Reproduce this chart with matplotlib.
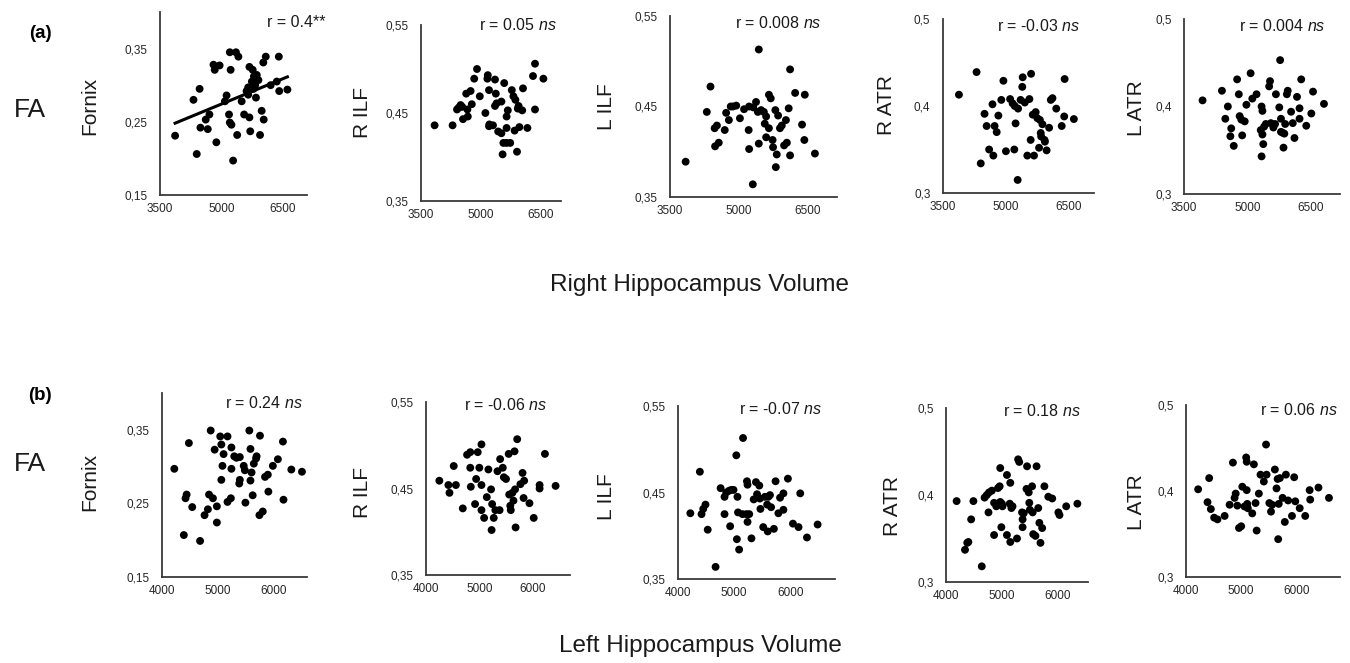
import numpy as np
import matplotlib
matplotlib.use("Agg")
import matplotlib.pyplot as plt
from matplotlib.ticker import FuncFormatter

plt.rcParams['font.family'] = ['Liberation Sans', 'DejaVu Sans']
plt.rcParams['mathtext.fontset'] = 'custom'
plt.rcParams['mathtext.rm'] = 'Liberation Sans'
plt.rcParams['mathtext.it'] = 'Liberation Sans:italic'

# ---- data: (a) right hippocampus volume vs FA ----
rh_fornix_x = [3870, 4400, 4320, 4470, 4490, 4620, 4710, 4670, 4880, 4810, 4840, 4960, 5130, 5090,
               5210, 5360, 5420, 5230, 5190, 5210, 5250, 5290, 5390, 5500, 5560, 5690, 5710, 5690,
               5750, 5800, 5870, 5910, 5830, 5660, 5620, 5850, 5990, 6040, 5950, 6030, 6090, 6210,
               6360, 6410, 6420, 6620, 5740, 5790, 5660, 5770]
rh_fornix_y = [0.231, 0.206, 0.280, 0.295, 0.242, 0.253, 0.260, 0.240, 0.222, 0.328, 0.321, 0.327,
               0.286, 0.278, 0.345, 0.345, 0.339, 0.321, 0.260, 0.249, 0.246, 0.197, 0.232, 0.278,
               0.260, 0.256, 0.237, 0.325, 0.305, 0.312, 0.314, 0.307, 0.300, 0.297, 0.292, 0.283,
               0.265, 0.253, 0.232, 0.331, 0.339, 0.300, 0.305, 0.339, 0.292, 0.294, 0.298, 0.295,
               0.287, 0.321]

rh_rilf_x = [3840, 4290, 4550, 4400, 4440, 4490, 4530, 4660, 4670, 4770, 4630, 4740, 4830, 4900,
             4970, 5110, 5170, 5200, 5160, 5350, 5370, 5390, 5350, 5210, 5300, 5200, 5430, 5510,
             5580, 5510, 5560, 5640, 5730, 5540, 5900, 5640, 5670, 5770, 5810, 5860, 5640, 5840,
             5960, 5940, 6030, 6050, 6160, 6350, 6300, 6560, 6350, 5920]
rh_rilf_y = [0.436, 0.436, 0.443, 0.454, 0.456, 0.459, 0.457, 0.454, 0.446, 0.460, 0.472, 0.475,
             0.489, 0.500, 0.469, 0.450, 0.493, 0.476, 0.489, 0.488, 0.472, 0.461, 0.458, 0.437,
             0.436, 0.435, 0.429, 0.463, 0.484, 0.427, 0.416, 0.416, 0.416, 0.403, 0.406, 0.446,
             0.453, 0.476, 0.469, 0.465, 0.433, 0.430, 0.434, 0.458, 0.453, 0.478, 0.433, 0.506,
             0.492, 0.489, 0.454, 0.455]

rh_lilf_x = [3840, 4300, 4380, 4470, 4520, 4480, 4560, 4690, 4720, 4780, 4820, 4870, 4940, 5020,
             5110, 5210, 5220, 5300, 5220, 5310, 5370, 5410, 5430, 5430, 5540, 5560, 5590, 5650,
             5650, 5690, 5730, 5740, 5820, 5800, 5790, 5850, 5890, 5930, 6020, 5980, 6040, 6080,
             6110, 6110, 6220, 6370, 6420, 6430, 6650, 5590, 5480]
rh_lilf_y = [0.389, 0.444, 0.472, 0.426, 0.429, 0.406, 0.410, 0.424, 0.443, 0.435, 0.450, 0.450,
             0.451, 0.437, 0.447, 0.424, 0.403, 0.364, 0.450, 0.449, 0.455, 0.444, 0.513, 0.409,
             0.444, 0.431, 0.416, 0.426, 0.463, 0.459, 0.413, 0.405, 0.397, 0.383, 0.446, 0.440,
             0.426, 0.429, 0.435, 0.407, 0.410, 0.448, 0.396, 0.491, 0.465, 0.430, 0.413, 0.463,
             0.398, 0.439, 0.446]

rh_ratr_x = [3880, 4300, 4400, 4490, 4540, 4600, 4680, 4700, 4730, 4780, 4820, 4890, 4940, 5000,
             5100, 5160, 5200, 5230, 5210, 5280, 5290, 5350, 5390, 5400, 5450, 5510, 5560, 5590,
             5600, 5640, 5670, 5710, 5750, 5790, 5830, 5810, 5870, 5930, 5970, 6030, 6070, 6110,
             6200, 6330, 6390, 6400, 6620, 5840, 5920]
rh_ratr_y = [0.413, 0.439, 0.334, 0.391, 0.377, 0.350, 0.402, 0.343, 0.377, 0.370, 0.389, 0.407,
             0.429, 0.348, 0.408, 0.403, 0.350, 0.380, 0.400, 0.315, 0.397, 0.407, 0.422, 0.433,
             0.404, 0.343, 0.408, 0.361, 0.437, 0.390, 0.343, 0.393, 0.386, 0.352, 0.369, 0.384,
             0.379, 0.359, 0.349, 0.375, 0.407, 0.409, 0.397, 0.377, 0.388, 0.431, 0.385, 0.365,
             0.361]

rh_latr_x = [3940, 4400, 4540, 4480, 4620, 4600, 4680, 4760, 4800, 4820, 4860, 4880, 4940, 4980,
             5080, 5120, 5220, 5340, 5360, 5320, 5360, 5380, 5340, 5400, 5440, 5520, 5540, 5560,
             5620, 5660, 5680, 5760, 5780, 5800, 5840, 5860, 5900, 5940, 5960, 6040, 6080, 6120,
             6180, 6240, 6280, 6240, 6400, 6520, 6560, 6820, 5800, 5880]
rh_latr_y = [0.407, 0.418, 0.400, 0.386, 0.375, 0.366, 0.355, 0.431, 0.414, 0.389, 0.385, 0.367,
             0.383, 0.402, 0.438, 0.409, 0.414, 0.400, 0.395, 0.373, 0.368, 0.357, 0.343, 0.377,
             0.380, 0.423, 0.429, 0.381, 0.376, 0.380, 0.414, 0.399, 0.453, 0.386, 0.370, 0.353,
             0.380, 0.414, 0.418, 0.394, 0.381, 0.364, 0.411, 0.386, 0.431, 0.398, 0.378, 0.392,
             0.417, 0.403, 0.371, 0.369]

# ---- (b) left hippocampus volume vs FA ----
lh_fornix_x = [4220, 4390, 4420, 4440, 4480, 4540, 4680, 4760, 4820, 4840, 4870, 4910, 4940, 4980,
               4980, 5040, 5060, 5060, 5080, 5100, 5170, 5170, 5230, 5240, 5240, 5290, 5330, 5390,
               5380, 5390, 5460, 5480, 5490, 5560, 5580, 5580, 5600, 5620, 5640, 5680, 5690, 5750,
               5740, 5800, 5840, 5890, 5900, 5980, 6070, 6160, 6170, 6310, 6500]
lh_fornix_y = [0.297, 0.207, 0.257, 0.262, 0.332, 0.245, 0.199, 0.234, 0.242, 0.262, 0.349, 0.257,
               0.323, 0.246, 0.224, 0.341, 0.330, 0.282, 0.301, 0.317, 0.341, 0.252, 0.257, 0.297,
               0.326, 0.314, 0.312, 0.313, 0.277, 0.282, 0.301, 0.295, 0.251, 0.349, 0.324, 0.281,
               0.292, 0.261, 0.304, 0.311, 0.314, 0.342, 0.234, 0.239, 0.286, 0.289, 0.266, 0.301,
               0.310, 0.334, 0.255, 0.296, 0.293]

lh_rilf_x = [4250, 4420, 4440, 4560, 4520, 4690, 4770, 4830, 4830, 4840, 4920, 4940, 4970, 5000,
             5040, 5040, 5040, 5090, 5140, 5170, 5220, 5240, 5270, 5230, 5300, 5380, 5340, 5390,
             5440, 5460, 5500, 5550, 5560, 5580, 5590, 5620, 5640, 5660, 5670, 5680, 5710, 5770,
             5810, 5840, 5830, 5940, 6020, 6130, 6130, 6230, 6430]
lh_rilf_y = [0.459, 0.454, 0.445, 0.454, 0.476, 0.427, 0.489, 0.492, 0.474, 0.452, 0.432, 0.461,
             0.492, 0.474, 0.501, 0.454, 0.425, 0.416, 0.440, 0.472, 0.449, 0.432, 0.416, 0.402,
             0.425, 0.425, 0.470, 0.484, 0.474, 0.463, 0.461, 0.490, 0.443, 0.430, 0.425, 0.445,
             0.436, 0.493, 0.449, 0.405, 0.507, 0.455, 0.468, 0.459, 0.439, 0.433, 0.416, 0.454,
             0.450, 0.490, 0.453]

lh_lilf_x = [4220, 4390, 4420, 4450, 4490, 4530, 4670, 4760, 4830, 4830, 4860, 4910, 4930, 4950,
             4990, 5040, 5050, 5060, 5070, 5090, 5160, 5150, 5220, 5240, 5270, 5230, 5240, 5310,
             5350, 5390, 5410, 5450, 5460, 5470, 5520, 5550, 5590, 5600, 5640, 5660, 5710, 5740,
             5790, 5820, 5880, 5880, 5960, 6050, 6150, 6180, 6300, 6490, 5610]
lh_lilf_y = [0.426, 0.474, 0.425, 0.431, 0.436, 0.407, 0.364, 0.455, 0.445, 0.425, 0.450, 0.452,
             0.411, 0.453, 0.453, 0.493, 0.396, 0.445, 0.427, 0.384, 0.513, 0.425, 0.425, 0.416,
             0.425, 0.463, 0.459, 0.397, 0.442, 0.462, 0.448, 0.458, 0.443, 0.431, 0.410, 0.445,
             0.436, 0.405, 0.447, 0.433, 0.408, 0.463, 0.426, 0.444, 0.449, 0.430, 0.466, 0.414,
             0.410, 0.449, 0.398, 0.413, 0.445]

lh_ratr_x = [4190, 4340, 4380, 4400, 4450, 4490, 4640, 4690, 4730, 4760, 4770, 4820, 4860, 4860,
             4900, 4930, 4960, 4970, 4970, 4990, 5000, 5010, 5090, 5090, 5140, 5150, 5150, 5170,
             5190, 5270, 5290, 5310, 5360, 5370, 5370, 5390, 5440, 5450, 5480, 5490, 5500, 5540,
             5550, 5620, 5560, 5600, 5690, 5670, 5720, 5760, 5830, 5900, 6010, 6030, 6150, 6350,
             5650]
lh_ratr_y = [0.393, 0.337, 0.345, 0.346, 0.372, 0.393, 0.318, 0.397, 0.400, 0.380, 0.403, 0.405,
             0.354, 0.391, 0.387, 0.408, 0.410, 0.431, 0.392, 0.363, 0.390, 0.387, 0.423, 0.354,
             0.390, 0.346, 0.414, 0.385, 0.387, 0.350, 0.441, 0.438, 0.380, 0.372, 0.363, 0.379,
             0.407, 0.433, 0.403, 0.391, 0.383, 0.410, 0.380, 0.433, 0.355, 0.353, 0.345, 0.368,
             0.362, 0.410, 0.398, 0.396, 0.380, 0.377, 0.387, 0.390, 0.385]

lh_latr_x = [4220, 4390, 4420, 4450, 4510, 4570, 4700, 4790, 4850, 4880, 4900, 4930, 4960, 5000,
             5020, 5060, 5090, 5100, 5100, 5110, 5120, 5200, 5230, 5260, 5280, 5320, 5350, 5410,
             5460, 5450, 5510, 5540, 5560, 5610, 5640, 5660, 5680, 5670, 5700, 5750, 5790, 5810,
             5850, 5920, 5960, 5980, 6060, 6160, 6240, 6250, 6400, 6590]
lh_latr_y = [0.402, 0.387, 0.415, 0.379, 0.369, 0.367, 0.371, 0.384, 0.433, 0.392, 0.397, 0.383,
             0.357, 0.359, 0.405, 0.382, 0.439, 0.401, 0.434, 0.385, 0.380, 0.374, 0.431, 0.386,
             0.354, 0.397, 0.419, 0.411, 0.419, 0.454, 0.386, 0.376, 0.384, 0.425, 0.403, 0.414,
             0.385, 0.344, 0.415, 0.392, 0.364, 0.419, 0.389, 0.371, 0.416, 0.388, 0.380, 0.371,
             0.401, 0.390, 0.404, 0.392]

top_x = [rh_fornix_x, rh_rilf_x, rh_lilf_x, rh_ratr_x, rh_latr_x]
top_y = [rh_fornix_y, rh_rilf_y, rh_lilf_y, rh_ratr_y, rh_latr_y]
bot_x = [lh_fornix_x, lh_rilf_x, lh_lilf_x, lh_ratr_x, lh_latr_x]
bot_y = [lh_fornix_y, lh_rilf_y, lh_lilf_y, lh_ratr_y, lh_latr_y]

tract_labels = ["Fornix", "R ILF", "L ILF", "R ATR", "L ATR"]
top_r = ["r = 0.4**", r"r = 0.05 $\mathit{ns}$", r"r = 0.008 $\mathit{ns}$",
         r"r = -0.03 $\mathit{ns}$", r"r = 0.004 $\mathit{ns}$"]
bot_r = [r"r = 0.24 $\mathit{ns}$", r"r = -0.06 $\mathit{ns}$", r"r = -0.07 $\mathit{ns}$",
         r"r = 0.18 $\mathit{ns}$", r"r = 0.06 $\mathit{ns}$"]

y_ranges = [(0.15, 0.40), (0.35, 0.55), (0.35, 0.55), (0.3, 0.5), (0.3, 0.5)]
y_ticks = [[0.15, 0.25, 0.35], [0.35, 0.45, 0.55], [0.35, 0.45, 0.55], [0.3, 0.4, 0.5], [0.3, 0.4, 0.5]]
top_xticks = [3500, 5000, 6500]
bot_xticks = [4000, 5000, 6000]
top_xmax = [7100, 7000, 7130, 7100, 7200]
bot_xmax = [6590, 6700, 6800, 6540, 6790]

# layout in pixels (left, top, right, bottom) of each plotting area
W, H = 1350, 663
top_boxes = [(160, 12, 307, 195), (421, 25, 561, 201), (670, 16, 837, 197),
             (943, 19, 1094, 193), (1184, 19, 1340, 194)]
bot_boxes = [(162, 393, 307, 577), (426, 402, 570, 575), (678, 406, 835, 579),
             (946, 408, 1088, 582), (1186, 405, 1340, 577)]
top_rpos = [(0.93, 0.94), (0.69, 1.0), (0.65, 0.96), (0.63, 0.96), (0.63, 0.96)]
bot_rpos = [(0.70, 0.945), (0.55, 0.985), (0.65, 0.985), (0.675, 0.985), (0.73, 0.97)]
top_ylab = [(90, 106), (362, 112), (606, 107), (886, 105), (1137, 108)]
bot_ylab = [(90, 482), (362, 493), (606, 497), (893, 506), (1136, 502)]

fig = plt.figure(figsize=(W / 100, H / 100), dpi=100)
fig.patch.set_facecolor('white')

comma = FuncFormatter(lambda v, p: ('%g' % v).replace('.', ','))


def panel(box, xs, ys, xmin, xmax, xticks, yr, yt, rtxt, rpos):
    l, t, r, b = box
    ax = fig.add_axes([l / W, 1 - b / H, (r - l) / W, (b - t) / H])
    ax.scatter(xs, ys, s=32, color='black', edgecolors='none', zorder=3)
    ax.set_xlim(xmin, xmax)
    ax.set_ylim(*yr)
    ax.set_xticks(xticks)
    ax.set_yticks(yt)
    ax.yaxis.set_major_formatter(comma)
    for s in ['top', 'right']:
        ax.spines[s].set_visible(False)
    for s in ['left', 'bottom']:
        ax.spines[s].set_color('#3a3a3a')
        ax.spines[s].set_linewidth(1.3)
    ax.tick_params(length=0, labelsize=8.5, labelcolor='#262626')
    ax.tick_params(axis='y', pad=9)
    ax.tick_params(axis='x', pad=6)
    ax.patch.set_alpha(0)
    ax.text(rpos[0], rpos[1], rtxt, transform=ax.transAxes, ha='center', va='center',
            fontsize=11.5, color='#1a1a1a')
    return ax


for i in range(5):
    ax = panel(top_boxes[i], top_x[i], top_y[i], 3500, top_xmax[i], top_xticks,
               y_ranges[i], y_ticks[i], top_r[i], top_rpos[i])
    if i == 0:
        # linear trend for the significant panel
        k, c = np.polyfit(top_x[0], top_y[0], 1)
        fx = np.array([min(top_x[0]), max(top_x[0])])
        ax.plot(fx, k * fx + c, color='black', lw=2.2, zorder=4)
    px, py = top_ylab[i]
    fig.text(px / W, 1 - py / H, tract_labels[i], rotation=90, ha='center', va='center',
             fontsize=15, family=['Liberation Sans Narrow', 'Liberation Sans'], color='#1a1a1a')

for i in range(5):
    panel(bot_boxes[i], bot_x[i], bot_y[i], 4000, bot_xmax[i], bot_xticks,
          y_ranges[i], y_ticks[i], bot_r[i], bot_rpos[i])
    px, py = bot_ylab[i]
    fig.text(px / W, 1 - py / H, tract_labels[i], rotation=90, ha='center', va='center',
             fontsize=15, family=['Liberation Sans Narrow', 'Liberation Sans'], color='#1a1a1a')

fig.text(40 / W, 1 - 33 / H, "(a)", fontsize=13.5, fontweight='bold', ha='center', va='center')
fig.text(40 / W, 1 - 396 / H, "(b)", fontsize=13.5, fontweight='bold', ha='center', va='center')
fig.text(30 / W, 1 - 110 / H, "FA", fontsize=19, ha='center', va='center', color='#1a1a1a')
fig.text(30 / W, 1 - 464 / H, "FA", fontsize=19, ha='center', va='center', color='#1a1a1a')
fig.text(700 / W, 1 - 285 / H, "Right Hippocampus Volume", fontsize=17.5, ha='center',
         va='center', color='#1a1a1a')
fig.text(700 / W, 1 - 646 / H, "Left Hippocampus Volume", fontsize=17.5, ha='center',
         va='center', color='#1a1a1a')

fig.savefig("out.png", dpi=100, facecolor='white')
